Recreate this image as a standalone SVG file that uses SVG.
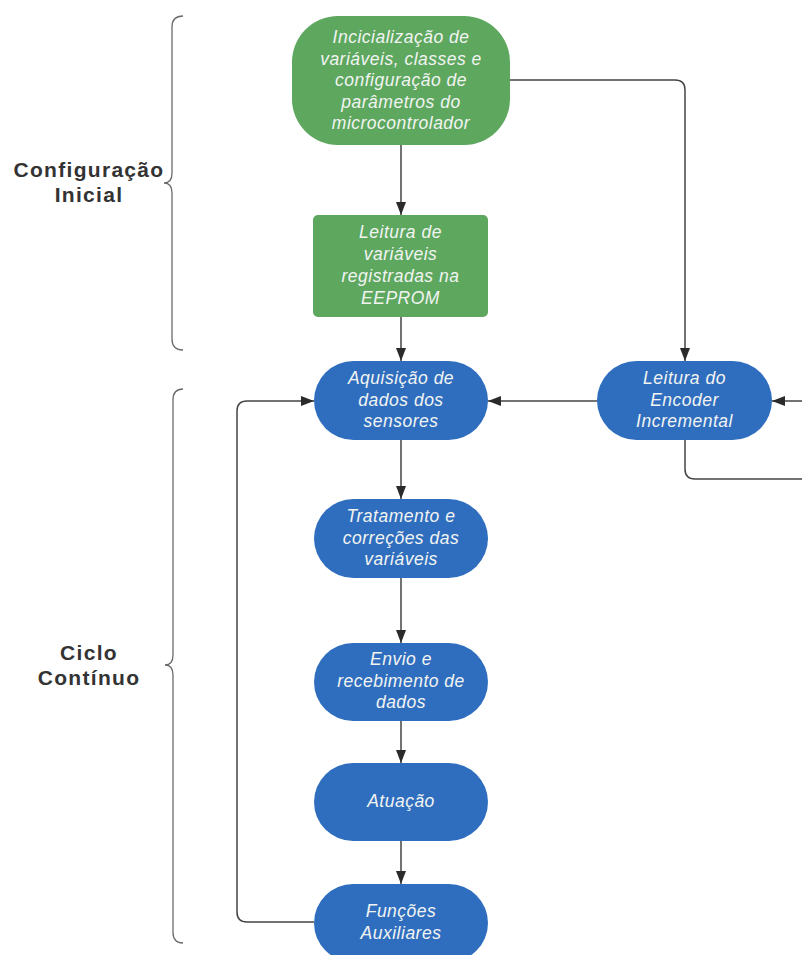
<svg xmlns="http://www.w3.org/2000/svg" width="802" height="955" viewBox="0 0 802 955">
<defs>
<marker id="ah" viewBox="0 0 13 10" refX="13" refY="5" markerWidth="13" markerHeight="10" markerUnits="userSpaceOnUse" orient="auto">
<path d="M0,0 L13,5 L0,10 Z" fill="#2b2b2b"/>
</marker>
<style>
.green{fill:#5da75f}
.blue{fill:#2f6ebe}
.nt{font-family:"Liberation Sans",Arial,sans-serif;font-style:italic;font-size:17.5px;letter-spacing:0.5px;fill:#f2f4f2;text-anchor:middle}
.lbl{font-family:"Liberation Sans",Arial,sans-serif;font-weight:bold;font-size:21px;letter-spacing:1.3px;fill:#333;text-anchor:middle}
.con{fill:none;stroke:#444;stroke-width:1.5}
.brace{fill:none;stroke:#6a6a6a;stroke-width:1.3}
</style>
</defs>
<rect width="802" height="955" fill="#ffffff"/>

<g id="braces">
<path class="brace" d="M183,16 Q172,16 172,27 V173 Q172,183 164,183 Q172,183 172,193 V339 Q172,350 183,350"/>
<path class="brace" d="M183,389 Q173,389 173,400 V655 Q173,665 165,665 Q173,665 173,675 V932 Q173,943 183,943"/>
</g>

<g id="label-config">
<text class="lbl" x="89" y="177">Configuração</text>
<text class="lbl" x="89" y="202">Inicial</text>
</g>
<g id="label-ciclo">
<text class="lbl" x="89" y="660">Ciclo</text>
<text class="lbl" x="89" y="685">Contínuo</text>
</g>

<g id="connectors">
<path class="con" d="M401,145 V215" marker-end="url(#ah)"/>
<path class="con" d="M401,317 V361" marker-end="url(#ah)"/>
<path class="con" d="M510,80 H675 Q685,80 685,90 V361" marker-end="url(#ah)"/>
<path class="con" d="M597,401 H488" marker-end="url(#ah)"/>
<path class="con" d="M685,440 V469 Q685,479 695,479 H815 V401 H772" marker-end="url(#ah)"/>
<path class="con" d="M401,440 V499" marker-end="url(#ah)"/>
<path class="con" d="M401,578 V643" marker-end="url(#ah)"/>
<path class="con" d="M401,721 V763" marker-end="url(#ah)"/>
<path class="con" d="M401,841 V884" marker-end="url(#ah)"/>
<path class="con" d="M314,922 H247 Q237,922 237,912 V411 Q237,401 247,401 H314" marker-end="url(#ah)"/>
</g>

<g id="n-init">
<rect class="green" x="292" y="16" width="218" height="129" rx="46" ry="46"/>
<text class="nt" x="401" y="43">Incicialização de</text>
<text class="nt" x="401" y="64.5">variáveis, classes e</text>
<text class="nt" x="401" y="86">configuração de</text>
<text class="nt" x="401" y="107.5">parâmetros do</text>
<text class="nt" x="401" y="129">microcontrolador</text>
</g>

<g id="n-eeprom">
<rect class="green" x="313" y="215" width="175" height="102" rx="5" ry="5"/>
<text class="nt" x="400.5" y="238">Leitura de</text>
<text class="nt" x="400.5" y="260">variáveis</text>
<text class="nt" x="400.5" y="282">registradas na</text>
<text class="nt" x="400.5" y="304">EEPROM</text>
</g>

<g id="n-aquisicao">
<rect class="blue" x="314" y="361" width="174" height="79" rx="39.5" ry="39.5"/>
<text class="nt" x="401" y="384">Aquisição de</text>
<text class="nt" x="401" y="405.5">dados dos</text>
<text class="nt" x="401" y="427">sensores</text>
</g>

<g id="n-encoder">
<rect class="blue" x="597" y="361" width="175" height="79" rx="39.5" ry="39.5"/>
<text class="nt" x="684.5" y="384">Leitura do</text>
<text class="nt" x="684.5" y="405.5">Encoder</text>
<text class="nt" x="684.5" y="427">Incremental</text>
</g>

<g id="n-tratamento">
<rect class="blue" x="314" y="499" width="174" height="79" rx="39.5" ry="39.5"/>
<text class="nt" x="401" y="522">Tratamento e</text>
<text class="nt" x="401" y="543.5">correções das</text>
<text class="nt" x="401" y="565">variáveis</text>
</g>

<g id="n-envio">
<rect class="blue" x="314" y="643" width="174" height="78" rx="39" ry="39"/>
<text class="nt" x="401" y="665">Envio e</text>
<text class="nt" x="401" y="686.5">recebimento de</text>
<text class="nt" x="401" y="708">dados</text>
</g>

<g id="n-atuacao">
<rect class="blue" x="314" y="763" width="174" height="78" rx="39" ry="39"/>
<text class="nt" x="401" y="807">Atuação</text>
</g>

<g id="n-funcoes">
<rect class="blue" x="314" y="884" width="174" height="78" rx="39" ry="39"/>
<text class="nt" x="401" y="917">Funções</text>
<text class="nt" x="401" y="939">Auxiliares</text>
</g>
</svg>
